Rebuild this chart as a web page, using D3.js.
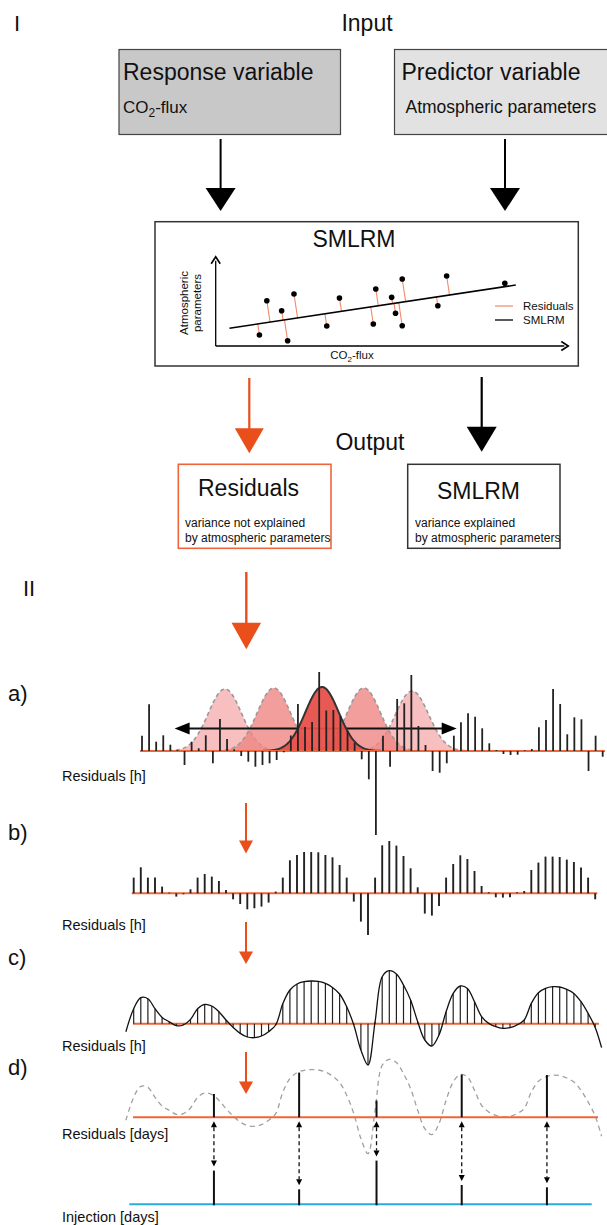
<!DOCTYPE html>
<html><head><meta charset="utf-8">
<script src="https://cdn.jsdelivr.net/npm/d3@7"></script>
<style>
body{margin:0;background:#fff}
svg{display:block}
text{font-family:"Liberation Sans",Arial,Helvetica,sans-serif;fill:#111}
</style>
</head><body>
<svg id="fig" width="607" height="1225"></svg>
<script>
// ---------------- DATA ----------------
// Section I scatter (SMLRM sketch), data units 0..100
const scatterX = [12.4,14.5,18.7,20.4,22.2,31.5,35.1,44.7,45.4,49.9,51.0,52.9,52.9,63.0,65.5,82.0];
const scatterY = [12.3,50.7,39.5,5.9,58.2,22.4,53.8,24.6,63.8,54.5,36.6,75.0,22.7,45.1,78.4,70.2];
const fitIntercept = 17.5, fitSlope = 0.597, fitRange = [3.9, 85.1];

// Section II hourly residuals
const hourIdx = d3.range(66);
const residualsA = [15.3,46.7,9.3,15.7,6.3,1,-14,9.3,2.7,15.7,
  -12.3,32,12,1.7,-5,-10.7,-15.7,-14,-12.3,-9,
  -1.3,15.5,47,24,29,79,40.5,41,35,20,
  8,-8.3,-28.3,-84,15.3,-15.7,52,47.7,76,25,
  6,-20,-21.7,-12.3,15.3,28.7,37.7,34.3,22.7,7.7,
  1,-3,-4,-3.7,0.7,2,23.7,31,62,47,
  16.7,33.7,31.7,-20,15.3,-5.7];
const residualsB = [15.7,26,15.7,15.7,6.7,0.7,-3.3,-1,4,15.7,
  19.3,16.7,12.3,3.3,-6,-10.7,-16,-15,-13.3,-9.3,
  1.7,15.7,33,38.3,41.3,41.3,41,38.3,36,28.3,
  15.7,-8.3,-28.3,-41.7,15.7,48,52.3,47.7,37.3,25,
  6,-20.3,-22.3,-12.7,15.7,29.3,38,34.3,22.3,7.3,
  1,-4,-4.3,-4,1,2.3,23.3,30.7,36.7,36.7,
  36.3,33.7,31.3,25.7,15.7,-6];
const smoothC = [15,26,25,15,6.3,2,-2,-1.3,4.3,15,
  19.3,17.7,12,3.7,-3.7,-9.7,-13.3,-14,-12.3,-8,
  -1.3,20,33.7,39.7,42,42.7,42.3,40.3,36.3,29.7,
  17,-1.3,-26.3,-41.3,2,47,53,49.7,38.7,23.7,
  2,-16.3,-22.3,-11.3,12,30.3,37.7,35.3,22,7,
  0.3,-3,-4.7,-4,-1.3,3.7,20.3,31,35.3,37,
  36.7,34.3,30.3,22,10.3,-3.7];
const smoothEnds = [[-1.1,-8],[65.9,-24]];

// moving window (gaussian kernels) in panel a
const windowCenter = [11.7,18.6,25.4,31.3,38.1];
const windowPeak = [62,63,64,63,60];
const windowSigma = 2.35;
const windowSpan = [4.6,44.4];

// Panel d: daily values
const dayHour = [11.3,23.3,34.2,46.2,58.2];
const residualDays = [23.3,44.7,16.7,42.7,42.3];
const injectionDays = [33.7,15,43.7,19.3,17];

// ---------------- DRAW ----------------
const svg = d3.select("#fig");
const ORANGE = "#e94e1b", BASE = "#f0643a", BLUE = "#29abe2";

function downArrow(x, y0, tipY, w, h, color, sw){
  svg.append("line").attr("x1",x).attr("x2",x).attr("y1",y0).attr("y2",tipY-h+1)
    .attr("stroke",color).attr("stroke-width",sw);
  svg.append("path").attr("d",`M${x-w/2},${tipY-h}L${x+w/2},${tipY-h}L${x},${tipY}Z`).attr("fill",color);
}
function txt(x,y,s,size,anchor){
  return svg.append("text").attr("x",x).attr("y",y).attr("font-size",size)
    .attr("text-anchor",anchor||"start").text(s);
}

// ---- Section I ----
txt(14,31,"I",22);
txt(367,31,"Input",23,"middle");

svg.append("rect").attr("x",119).attr("y",49.5).attr("width",221.5).attr("height",85)
  .attr("fill","#c8c8c8").attr("stroke","#444").attr("stroke-width",1.2);
svg.append("rect").attr("x",394.5).attr("y",49.5).attr("width",230).attr("height",85)
  .attr("fill","#e2e2e2").attr("stroke","#444").attr("stroke-width",1.2);
txt(123,80,"Response variable",23);
const co2 = txt(123,113,"CO",17);
co2.append("tspan").attr("font-size",12).attr("dy",4).text("2");
co2.append("tspan").attr("dy",-4).text("-flux");
txt(401.5,80,"Predictor variable",23);
txt(405.5,113,"Atmospheric parameters",17.5);

downArrow(220.6,139,211,30,23,"#000",2);
downArrow(505,139,211,30,23,"#000",2);

// SMLRM box
svg.append("rect").attr("x",155).attr("y",221.7).attr("width",423.3).attr("height",144.3)
  .attr("fill","#fff").attr("stroke","#333").attr("stroke-width",1.5);
txt(354,247,"SMLRM",23,"middle");

const xs = d3.scaleLinear().domain([0,100]).range([215.7,568.3]);
const ys = d3.scaleLinear().domain([0,100]).range([346,256.7]);
svg.append("line").attr("x1",xs(0)).attr("x2",xs(0)).attr("y1",ys(0)).attr("y2",ys(100)+4)
  .attr("stroke","#000").attr("stroke-width",1.3);
svg.append("line").attr("x1",xs(0)).attr("x2",xs(100)-4).attr("y1",ys(0)).attr("y2",ys(0))
  .attr("stroke","#000").attr("stroke-width",1.3);
svg.append("path").attr("d",`M${xs(0)-4.5},${ys(100)+7}L${xs(0)},${ys(100)}L${xs(0)+4.5},${ys(100)+7}`)
  .attr("fill","none").attr("stroke","#000").attr("stroke-width",1.6);
svg.append("path").attr("d",`M${xs(100)-7},${ys(0)-4.5}L${xs(100)},${ys(0)}L${xs(100)-7},${ys(0)+4.5}`)
  .attr("fill","none").attr("stroke","#000").attr("stroke-width",1.6);
const ylab = svg.append("text").attr("transform",`translate(188,303) rotate(-90)`)
  .attr("text-anchor","middle").attr("font-size",11.5);
ylab.append("tspan").attr("x",0).attr("dy",0).text("Atmospheric");
ylab.append("tspan").attr("x",0).attr("dy",13).text("parameters");
const xl = svg.append("text").attr("x",352).attr("y",359).attr("text-anchor","middle").attr("font-size",11.5);
xl.append("tspan").text("CO");
xl.append("tspan").attr("font-size",8).attr("dy",3).text("2");
xl.append("tspan").attr("dy",-3).text("-flux");

const fit = v => fitIntercept + fitSlope*v;
const p1 = [xs(fitRange[0]), ys(fit(fitRange[0]))], p2 = [xs(fitRange[1]), ys(fit(fitRange[1]))];
const dx = p2[0]-p1[0], dy = p2[1]-p1[1], L2 = dx*dx+dy*dy;
scatterX.forEach((vx,i)=>{
  const px = xs(vx), py = ys(scatterY[i]);
  const t = ((px-p1[0])*dx + (py-p1[1])*dy)/L2;
  const fx = p1[0]+t*dx, fy = p1[1]+t*dy;
  svg.append("line").attr("x1",px).attr("y1",py).attr("x2",fx).attr("y2",fy)
    .attr("stroke","#f08a6a").attr("stroke-width",1.1);
});
svg.append("line").attr("x1",p1[0]).attr("y1",p1[1]).attr("x2",p2[0]).attr("y2",p2[1])
  .attr("stroke","#000").attr("stroke-width",1.5);
svg.selectAll("circle.pt").data(scatterX).join("circle").attr("class","pt")
  .attr("cx",d=>xs(d)).attr("cy",(d,i)=>ys(scatterY[i])).attr("r",2.8).attr("fill","#000");
svg.append("line").attr("x1",495).attr("x2",513).attr("y1",306).attr("y2",306).attr("stroke","#f08a6a").attr("stroke-width",1.2);
svg.append("line").attr("x1",495).attr("x2",513).attr("y1",320).attr("y2",320).attr("stroke","#000").attr("stroke-width",1.3);
txt(523,310,"Residuals",11.5);
txt(523,324,"SMLRM",11.5);

// Output
downArrow(249.3,378,453.3,29,25,ORANGE,2.2);
downArrow(481.7,377,451.7,30,25,"#000",2.2);
txt(370,450,"Output",23,"middle");
svg.append("rect").attr("x",178.3).attr("y",464.3).attr("width",152.7).attr("height",84)
  .attr("fill","#fff").attr("stroke",BASE).attr("stroke-width",1.6);
svg.append("rect").attr("x",407.7).attr("y",464.3).attr("width",152.3).attr("height",84)
  .attr("fill","#fff").attr("stroke","#333").attr("stroke-width",1.5);
txt(248.5,495.5,"Residuals",23,"middle");
txt(185,527.3,"variance not explained",12);
txt(185,541.7,"by atmospheric parameters",12);
txt(478.5,499.3,"SMLRM",23,"middle");
txt(415,527.3,"variance explained",12);
txt(415,541.7,"by atmospheric parameters",12);

// ---- Section II ----
txt(23,596,"II",22);
downArrow(246.3,572,649.3,29.5,26.5,ORANGE,2.4);

// Panel a
const xa = d3.scaleLinear().domain([0,65]).range([142,602.7]);
const baseA = 751;
const ya = d3.scaleLinear().domain([-100,100]).range([baseA+100,baseA-100]);
function gaussPath(c,pk){
  const pts = d3.range(c-4.2*windowSigma, c+4.2*windowSigma+0.01, 0.1)
    .map(h=>[xa(h), ya(pk*Math.exp(-0.5*((h-c)/windowSigma)**2))]);
  return d3.line()(pts);
}
const winFill = ["#f4a9a9","#ee8683","#e8504a","#ee8683","#f4a9a9"];
const winOpac = [0.75,0.8,1,0.8,0.75];
[0,4,1,3].forEach(i=>{
  svg.append("path").attr("d",gaussPath(windowCenter[i],windowPeak[i])+"Z")
    .attr("fill",winFill[i]).attr("fill-opacity",winOpac[i])
    .attr("stroke","#999").attr("stroke-width",1.6).attr("stroke-dasharray","4,3");
});
const ay = ya(22.5);
svg.append("line").attr("x1",xa(windowSpan[0])+12).attr("x2",xa(windowSpan[1])-12)
  .attr("y1",ay).attr("y2",ay).attr("stroke","#111").attr("stroke-width",2);
svg.append("path").attr("d",`M${xa(windowSpan[0])},${ay}L${xa(windowSpan[0])+15},${ay-6}L${xa(windowSpan[0])+15},${ay+6}Z`).attr("fill","#000");
svg.append("path").attr("d",`M${xa(windowSpan[1])},${ay}L${xa(windowSpan[1])-15},${ay-6}L${xa(windowSpan[1])-15},${ay+6}Z`).attr("fill","#000");
svg.append("path").attr("d",gaussPath(windowCenter[2],windowPeak[2])+"Z")
  .attr("fill",winFill[2]).attr("fill-opacity",0.95).attr("stroke","none");
svg.append("path").attr("d",gaussPath(windowCenter[2],windowPeak[2]))
  .attr("fill","none").attr("stroke","#333").attr("stroke-width",2);
svg.append("line").attr("x1",140).attr("x2",605).attr("y1",baseA).attr("y2",baseA).attr("stroke",BASE).attr("stroke-width",2);
svg.selectAll("line.ba").data(hourIdx).join("line").attr("class","ba")
  .attr("x1",d=>xa(d)).attr("x2",d=>xa(d)).attr("y1",ya(0)).attr("y2",d=>ya(residualsA[d]))
  .attr("stroke","#222").attr("stroke-width",1.8);
txt(8,701,"a)",22);
txt(62,781,"Residuals [h]",14.5);

downArrow(246,803,853.5,14,13,ORANGE,2);

// Panel b
const xb = d3.scaleLinear().domain([0,65]).range([133.7,595.2]);
const baseB = 893.3;
const yb = d3.scaleLinear().domain([-100,100]).range([baseB+100,baseB-100]);
svg.append("line").attr("x1",131.7).attr("x2",597.3).attr("y1",baseB).attr("y2",baseB).attr("stroke",BASE).attr("stroke-width",2);
svg.selectAll("line.bb").data(hourIdx).join("line").attr("class","bb")
  .attr("x1",d=>xb(d)).attr("x2",d=>xb(d)).attr("y1",yb(0)).attr("y2",d=>yb(residualsB[d]))
  .attr("stroke","#222").attr("stroke-width",1.9);
txt(8,840,"b)",22);
txt(62,930,"Residuals [h]",14.5);

downArrow(246,922,964,14,12.5,ORANGE,2);

// Panel c
const baseC = 1023.7;
const yc = d3.scaleLinear().domain([-100,100]).range([baseC+100,baseC-100]);
const curvePts = [smoothEnds[0], ...hourIdx.map(h=>[h,smoothC[h]]), smoothEnds[1]];
svg.append("line").attr("x1",133).attr("x2",599).attr("y1",baseC).attr("y2",baseC).attr("stroke",BASE).attr("stroke-width",2);
svg.selectAll("line.bc").data(hourIdx).join("line").attr("class","bc")
  .attr("x1",d=>xb(d)).attr("x2",d=>xb(d)).attr("y1",yc(0)).attr("y2",d=>yc(smoothC[d]))
  .attr("stroke","#222").attr("stroke-width",1.2);
svg.append("path").attr("d",d3.line().x(d=>xb(d[0])).y(d=>yc(d[1])).curve(d3.curveCatmullRom)(curvePts))
  .attr("fill","none").attr("stroke","#111").attr("stroke-width",1.3);
txt(8,965,"c)",22);
txt(62,1051,"Residuals [h]",14.5);

downArrow(246,1052,1094,14,12.5,ORANGE,2);

// Panel d
const baseD = 1117.3, baseInj = 1204.3;
const yd = d3.scaleLinear().domain([-100,100]).range([baseD+100,baseD-100]);
const yi = d3.scaleLinear().domain([-100,100]).range([baseInj+100,baseInj-100]);
svg.append("path").attr("d",d3.line().x(d=>xb(d[0])).y(d=>yd(d[1])-5).curve(d3.curveCatmullRom)(curvePts))
  .attr("fill","none").attr("stroke","#a0a0a0").attr("stroke-width",1.3).attr("stroke-dasharray","5,4");
svg.append("line").attr("x1",133).attr("x2",598).attr("y1",baseD).attr("y2",baseD).attr("stroke",BASE).attr("stroke-width",2);
svg.append("line").attr("x1",129.3).attr("x2",591.7).attr("y1",baseInj).attr("y2",baseInj).attr("stroke",BLUE).attr("stroke-width",2);
dayHour.forEach((h,i)=>{
  const x = xb(h);
  svg.append("line").attr("x1",x).attr("x2",x).attr("y1",yd(0)).attr("y2",yd(residualDays[i])).attr("stroke","#111").attr("stroke-width",2);
  svg.append("line").attr("x1",x).attr("x2",x).attr("y1",yi(0)+1).attr("y2",yi(injectionDays[i])).attr("stroke","#111").attr("stroke-width",2);
  const top = yd(0)+4, bot = yi(injectionDays[i])-4;
  svg.append("line").attr("x1",x).attr("x2",x).attr("y1",top+6).attr("y2",bot-6)
    .attr("stroke","#111").attr("stroke-width",1.3).attr("stroke-dasharray","4,3");
  svg.append("path").attr("d",`M${x},${top}L${x-3},${top+6}L${x+3},${top+6}Z`).attr("fill","#000");
  svg.append("path").attr("d",`M${x},${bot}L${x-3},${bot-6}L${x+3},${bot-6}Z`).attr("fill","#000");
});
txt(8,1075,"d)",22);
txt(62,1139,"Residuals [days]",14.5);
txt(62,1222,"Injection [days]",14.5);
</script>
</body></html>
